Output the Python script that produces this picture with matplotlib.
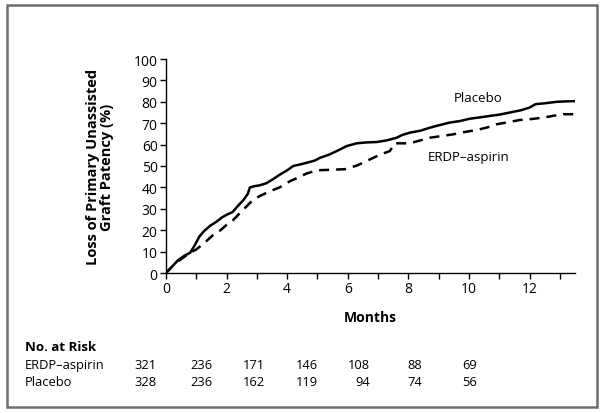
import matplotlib.pyplot as plt
from matplotlib.patches import Rectangle

# curves (months, % loss of patency)
placebo_months = [0, 0.2, 0.4, 0.6, 0.8, 0.95, 1.1, 1.25, 1.45, 1.67, 1.85, 2.0, 2.2, 2.35,
                  2.55, 2.7, 2.77, 2.9, 3.1, 3.32, 3.55, 3.76, 4.0, 4.2, 4.45, 4.64, 4.9,
                  5.08, 5.4, 5.74, 5.96, 6.29, 6.6, 6.95, 7.3, 7.61, 7.8, 8.05, 8.4, 8.71,
                  9.0, 9.37, 9.7, 10.03, 10.4, 10.69, 11.0, 11.35, 11.7, 12.0, 12.2, 12.5,
                  12.9, 13.2, 13.5]
placebo_loss = [0, 3, 6, 8, 9.5, 13, 17, 19.5, 22, 24, 26, 27.2, 28.5, 31,
                34, 37, 40, 40.5, 41, 42, 44, 46, 48, 50, 50.8, 51.5, 52.5,
                53.8, 55.4, 57.7, 59.3, 60.6, 61, 61.2, 62, 63.2, 64.5, 65.6, 66.5, 67.9,
                69, 70.3, 71, 72.1, 72.8, 73.4, 74, 75, 76, 77.3, 78.9, 79.3,
                80, 80.2, 80.3]

erdp_months = [0, 0.2, 0.4, 0.6, 0.8, 1.0, 1.3, 1.56, 1.8, 2.0, 2.2, 2.44, 2.65, 2.88,
               3.1, 3.43, 3.75, 4.09, 4.35, 4.64, 5.0, 5.9, 6.3, 6.84, 7.1, 7.39,
               7.55, 8.05, 8.4, 8.71, 9.1, 9.48, 9.9, 10.25, 10.6, 10.91, 11.3, 11.68,
               12.1, 12.45, 12.8, 13.11, 13.45]
erdp_loss = [0, 3, 5.5, 7.5, 9.5, 11, 14.5, 17.8, 20, 22.5, 24.5, 28, 31, 34.3,
             36, 38.2, 40, 42.9, 44.5, 46.5, 48, 48.5, 50.2, 53.8, 55.5, 57,
             60.6, 60.6, 62, 63.2, 64, 64.8, 66, 66.8, 68, 69.5, 70.5, 71.5,
             72, 72.6, 73.5, 74.2, 74.2]

risk_months = [0, 2, 4, 6, 8, 10, 12]
risk_erdp = [321, 236, 171, 146, 108, 88, 69]
risk_placebo = [328, 236, 162, 119, 94, 74, 56]

plt.rcParams['font.family'] = ['Open Sans', 'DejaVu Sans']
plt.rcParams['font.size'] = 9.5

fig = plt.figure(figsize=(6.01, 4.14), dpi=100)
W, H = 601, 414
ax = fig.add_axes([166 / W, 1 - 274 / H, (575 - 166) / W, (274 - 60) / H])

ax.plot(placebo_months, placebo_loss, color='black', lw=1.8)
ax.plot(erdp_months, erdp_loss, color='black', lw=1.8, linestyle=(0, (4, 2.8)))

ax.set_xlim(0, 13.5)
ax.set_ylim(0, 100)
ax.set_yticks(range(0, 101, 10))
ax.set_xticks(range(0, 14))
ax.set_xticklabels([str(m) if m % 2 == 0 else '' for m in range(0, 14)])
ax.tick_params(direction='out', length=4, width=1, pad=2, labelsize=10)
for s in ['top', 'right']:
    ax.spines[s].set_visible(False)
for s in ['left', 'bottom']:
    ax.spines[s].set_linewidth(1)

ax.set_ylabel('Loss of Primary Unassisted\nGraft Patency (%)', fontweight='bold',
              fontsize=10.5, linespacing=1.05, labelpad=14)
ax.set_xlabel('Months', fontweight='bold', fontsize=10, labelpad=10)

ax.text(10.3, 82, 'Placebo', ha='center', va='center', fontsize=9.5)
ax.text(10.0, 54.5, 'ERDP\u2013aspirin', ha='center', va='center', fontsize=9.5)

# number-at-risk table
fig.text(25 / W, 1 - 348 / H, 'No. at Risk', fontweight='bold', fontsize=9.5, va='center')
fig.text(25 / W, 1 - 366 / H, 'ERDP\u2013aspirin', fontsize=9.3, va='center')
fig.text(25 / W, 1 - 383 / H, 'Placebo', fontsize=9.3, va='center')
col_right = [157, 212, 265, 318, 370, 422, 477]
for xr, a, b in zip(col_right, risk_erdp, risk_placebo):
    fig.text(xr / W, 1 - 366 / H, str(a), ha='right', va='center', fontsize=9.3)
    fig.text(xr / W, 1 - 383 / H, str(b), ha='right', va='center', fontsize=9.3)

fig.patches.append(Rectangle((7 / W, 1 - 408 / H), (597 - 7) / W, (408 - 6) / H,
                             transform=fig.transFigure, fill=False,
                             edgecolor='#6e6e6e', lw=1.8))

fig.savefig('out.png', dpi=100)
